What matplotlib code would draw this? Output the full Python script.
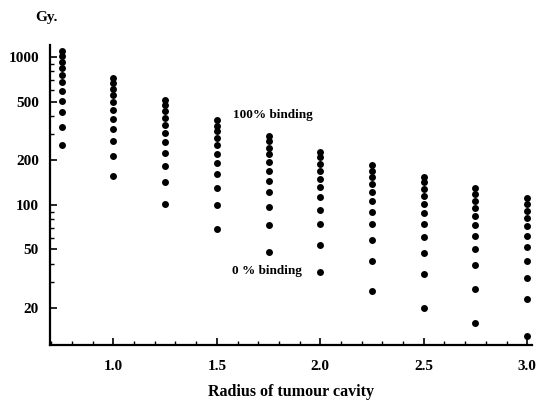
import matplotlib
matplotlib.use('Agg')
from matplotlib import pyplot as plt
from matplotlib.ticker import MultipleLocator, FixedLocator, NullFormatter, LogLocator

plt.rcParams['font.family'] = ['Liberation Serif', 'DejaVu Serif']
plt.rcParams['font.weight'] = 'bold'

# radius of tumour cavity, one column of points each
radius = [0.75, 1.0, 1.25, 1.5, 1.75, 2.0, 2.25, 2.5, 2.75, 3.0]

# dose (Gy) per column, from 0 % binding (bottom) up to 100 % binding (top)
dose_075 = [254, 338, 423, 507, 592, 676, 760, 845, 929, 1014, 1098]
dose_100 = [157, 213, 270, 326, 383, 439, 495, 552, 608, 665, 721]
dose_125 = [102, 143, 184, 225, 266, 307, 348, 389, 430, 471, 512]
dose_150 = [69, 100, 130, 161, 191, 222, 253, 283, 314, 344, 375]
dose_175 = [48, 73, 97, 122, 146, 171, 195, 220, 244, 269, 293]
dose_200 = [35, 54, 74, 93, 113, 132, 151, 171, 190, 210, 229]
dose_225 = [26, 42, 58, 74, 90, 106, 122, 138, 154, 170, 186]
dose_250 = [20, 34, 47, 61, 74, 88, 101, 115, 128, 142, 155]
dose_275 = [16, 27, 39, 50, 62, 73, 84, 96, 107, 119, 130]
dose_300 = [13, 23, 32, 42, 52, 62, 72, 81, 91, 101, 111]
doses = [dose_075, dose_100, dose_125, dose_150, dose_175,
         dose_200, dose_225, dose_250, dose_275, dose_300]

y_ticks = [20, 50, 100, 200, 500, 1000]
x_ticks = [1.0, 1.5, 2.0, 2.5, 3.0]

fig = plt.figure(figsize=(5.42, 4.03), dpi=100)
ax = fig.add_axes([0.0923, 0.144, 0.89, 0.744])

for r, d in zip(radius, doses):
    ax.scatter([r] * len(d), d, s=25, color='black', linewidths=0, zorder=3)

ax.set_yscale('log')
ax.set_ylim(11.3, 1205)
ax.set_xlim(0.694, 3.025)

ax.yaxis.set_major_locator(FixedLocator(y_ticks))
ax.set_yticklabels([str(t) for t in y_ticks])
ax.yaxis.set_minor_locator(LogLocator(base=10, subs=range(2, 10)))
ax.yaxis.set_minor_formatter(NullFormatter())

ax.set_xticks(x_ticks)
ax.set_xticklabels(['%.1f' % t for t in x_ticks])
ax.xaxis.set_minor_locator(MultipleLocator(0.1))

for s in ['top', 'right']:
    ax.spines[s].set_visible(False)
for s in ['left', 'bottom']:
    ax.spines[s].set_linewidth(1.6)

ax.tick_params(which='major', direction='in', length=5, width=1.2,
               labelsize=11, pad=8)
ax.tick_params(which='minor', direction='in', length=3, width=1)
ax.tick_params(axis='x', which='major', pad=11)

ax.set_xlabel('Radius of tumour cavity', fontsize=11.5, fontweight='bold', labelpad=8)

ax.text(1.772, 405, '100% binding', fontsize=9.5, fontweight='bold',
        ha='center', va='center')
ax.text(1.743, 35.8, '0 % binding', fontsize=9.5, fontweight='bold',
        ha='center', va='center')

fig.text(46 / 542, 1 - 18 / 403, 'Gy.', fontsize=11, fontweight='bold',
         ha='center', va='center')

plt.savefig('out.png', dpi=100)
